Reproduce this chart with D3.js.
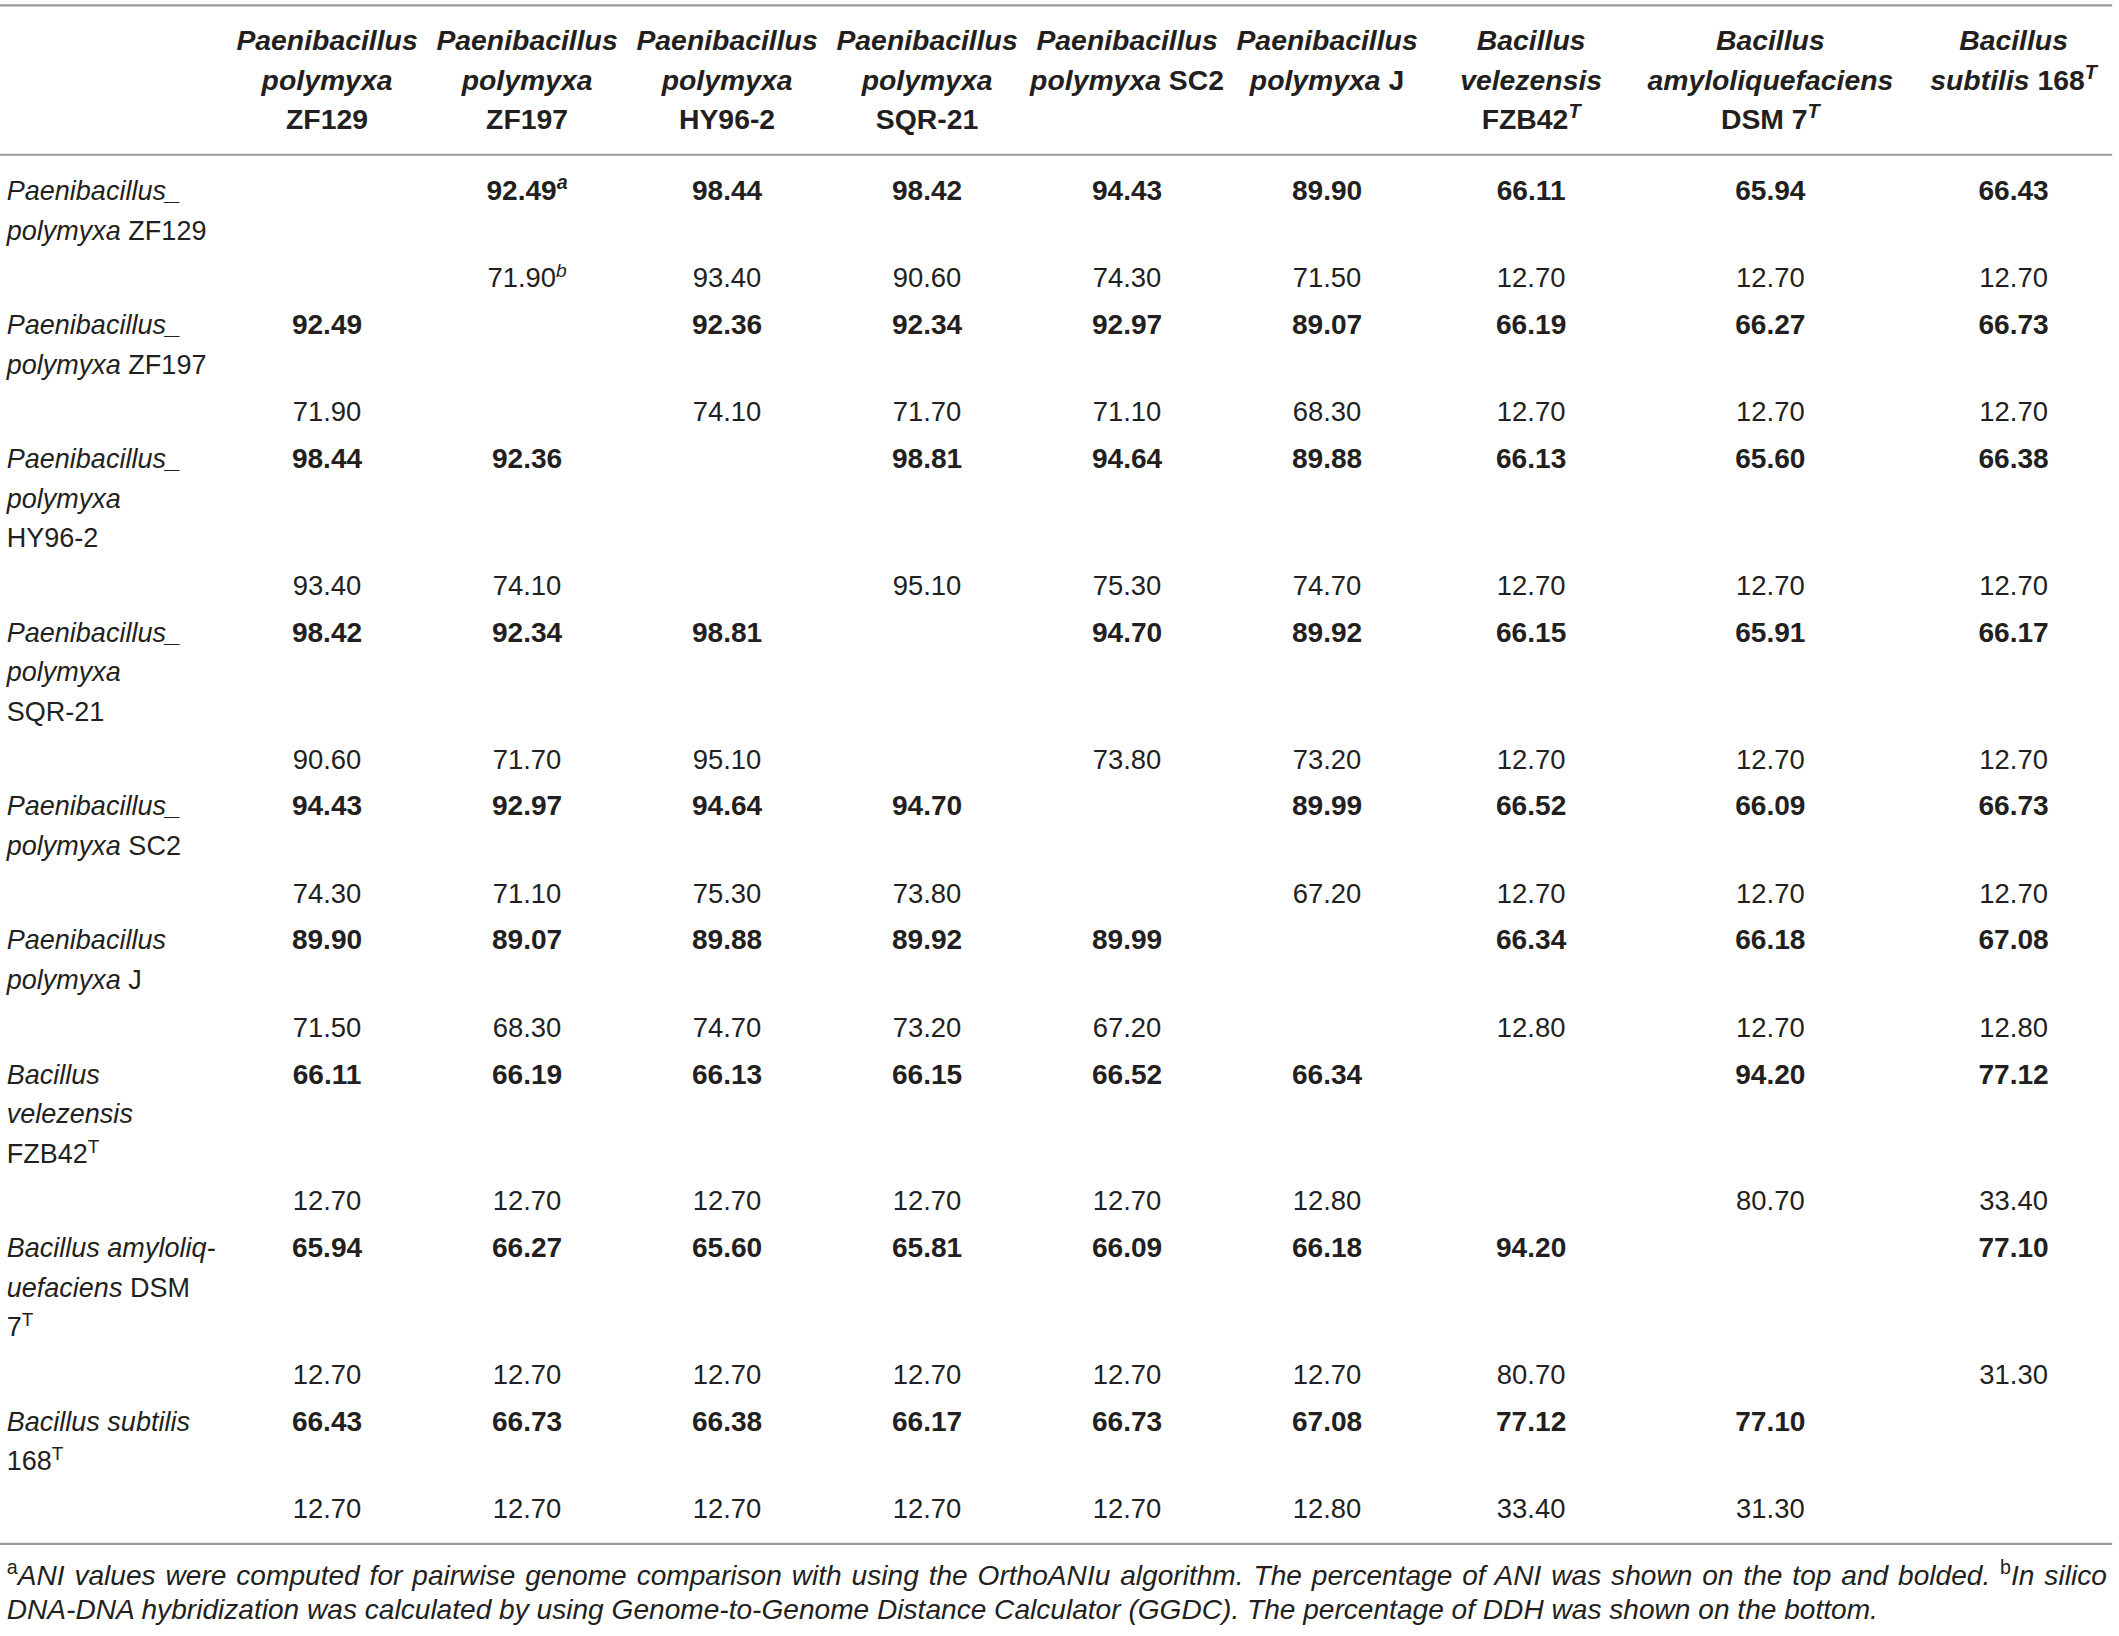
<!DOCTYPE html>
<html>
<head>
<meta charset="utf-8">
<script src="https://cdn.jsdelivr.net/npm/d3@7"></script>
<style>
  html, body { margin: 0; padding: 0; background: #fff; }
  svg { display: block; }
</style>
</head>
<body>
<div id="chart"></div>
<script>
// =============================================================================
// Data
// =============================================================================
const strains = ['ZF129', 'ZF197', 'HY96-2', 'SQR-21', 'SC2', 'J', 'FZB42', 'DSM7', '168'];

// column headers: lines of [text, style] segments (i = italic, sup = superscript)
const headerLabels = [
    [[['Paenibacillus', 'i']], [['polymyxa', 'i']], [['ZF129', '']]],
    [[['Paenibacillus', 'i']], [['polymyxa', 'i']], [['ZF197', '']]],
    [[['Paenibacillus', 'i']], [['polymyxa', 'i']], [['HY96-2', '']]],
    [[['Paenibacillus', 'i']], [['polymyxa', 'i']], [['SQR-21', '']]],
    [[['Paenibacillus', 'i']], [['polymyxa', 'i'], [' SC2', '']]],
    [[['Paenibacillus', 'i']], [['polymyxa', 'i'], [' J', '']]],
    [[['Bacillus', 'i']], [['velezensis', 'i']], [['FZB42', ''], ['T', 'i sup']]],
    [[['Bacillus', 'i']], [['amyloliquefaciens', 'i']], [['DSM 7', ''], ['T', 'i sup']]],
    [[['Bacillus', 'i']], [['subtilis', 'i'], [' 168', ''], ['T', 'i sup']]]
];

const rowLabels = [
    [[['Paenibacillus_', 'i']], [['polymyxa', 'i'], [' ZF129', '']]],
    [[['Paenibacillus_', 'i']], [['polymyxa', 'i'], [' ZF197', '']]],
    [[['Paenibacillus_', 'i']], [['polymyxa', 'i']], [['HY96-2', '']]],
    [[['Paenibacillus_', 'i']], [['polymyxa', 'i']], [['SQR-21', '']]],
    [[['Paenibacillus_', 'i']], [['polymyxa', 'i'], [' SC2', '']]],
    [[['Paenibacillus', 'i']], [['polymyxa', 'i'], [' J', '']]],
    [[['Bacillus', 'i']], [['velezensis', 'i']], [['FZB42', ''], ['T', 'sup']]],
    [[['Bacillus amyloliq-', 'i']], [['uefaciens', 'i'], [' DSM', '']], [['7', ''], ['T', 'sup']]],
    [[['Bacillus subtilis', 'i']], [['168', ''], ['T', 'sup']]]
];

// ANI (%) - top, bold
const aniValues = [
    [null, 92.49, 98.44, 98.42, 94.43, 89.90, 66.11, 65.94, 66.43],
    [92.49, null, 92.36, 92.34, 92.97, 89.07, 66.19, 66.27, 66.73],
    [98.44, 92.36, null, 98.81, 94.64, 89.88, 66.13, 65.60, 66.38],
    [98.42, 92.34, 98.81, null, 94.70, 89.92, 66.15, 65.91, 66.17],
    [94.43, 92.97, 94.64, 94.70, null, 89.99, 66.52, 66.09, 66.73],
    [89.90, 89.07, 89.88, 89.92, 89.99, null, 66.34, 66.18, 67.08],
    [66.11, 66.19, 66.13, 66.15, 66.52, 66.34, null, 94.20, 77.12],
    [65.94, 66.27, 65.60, 65.81, 66.09, 66.18, 94.20, null, 77.10],
    [66.43, 66.73, 66.38, 66.17, 66.73, 67.08, 77.12, 77.10, null]
];

// in silico DDH (%) - bottom
const ddhValues = [
    [null, 71.90, 93.40, 90.60, 74.30, 71.50, 12.70, 12.70, 12.70],
    [71.90, null, 74.10, 71.70, 71.10, 68.30, 12.70, 12.70, 12.70],
    [93.40, 74.10, null, 95.10, 75.30, 74.70, 12.70, 12.70, 12.70],
    [90.60, 71.70, 95.10, null, 73.80, 73.20, 12.70, 12.70, 12.70],
    [74.30, 71.10, 75.30, 73.80, null, 67.20, 12.70, 12.70, 12.70],
    [71.50, 68.30, 74.70, 73.20, 67.20, null, 12.80, 12.70, 12.80],
    [12.70, 12.70, 12.70, 12.70, 12.70, 12.80, null, 80.70, 33.40],
    [12.70, 12.70, 12.70, 12.70, 12.70, 12.70, 80.70, null, 31.30],
    [12.70, 12.70, 12.70, 12.70, 12.70, 12.80, 33.40, 31.30, null]
];

const footnoteLines = [
    [['a', 'sup'], ['ANI values were computed for pairwise genome comparison with using the OrthoANIu algorithm. The percentage of ANI was shown on the top and bolded. ', 'i'], ['b', 'sup'], ['In silico', 'i']],
    [['DNA-DNA hybridization was calculated by using Genome-to-Genome Distance Calculator (GGDC). The percentage of DDH was shown on the bottom.', 'i']]
];

// =============================================================================
// Layout
// =============================================================================
const VIEW_W = 1568;
const VIEW_H = 1636 * VIEW_W / 2119;
const FONT = "'Liberation Sans', Arial, sans-serif";
const TEXT_COLOR = '#231f20';
const RULE_COLOR = '#9a9a9a';
const HEADER_SIZE = 21;
const LABEL_SIZE = 20;
const ANI_SIZE = 20.8;
const DDH_SIZE = 20.3;
const FOOT_SIZE = 20.8;
const LINE_H = 29.3;
const ROW_GAP = 34.6;        // DDH line -> next row's ANI line
const BASE_OFF = 7;          // centre -> baseline
const LABEL_X = 5;
const FOOT_WIDTH = 1554;     // justified width of full footnote lines
const FIRST_COL = 168;
const COL_WIDTHS = [148, 148, 148, 148, 148, 148, 154, 200, 160];

const svg = d3.select('#chart').append('svg')
    .attr('width', 2119)
    .attr('height', 1636)
    .attr('viewBox', `0 0 ${VIEW_W} ${VIEW_H}`)
    .style('font-family', FONT)
    .style('fill', TEXT_COLOR);

// column centres from widths
const colEdges = [FIRST_COL, ...d3.cumsum(COL_WIDTHS).map(d => FIRST_COL + d)];
const xCol = d3.scaleOrdinal()
    .domain(strains)
    .range(strains.map((s, i) => (colEdges[i] + colEdges[i + 1]) / 2));

// row positions (ANI line centre, DDH line centre)
const rowPos = [];
let y = 141;
rowLabels.forEach((lab) => {
    const ddh = y + lab.length * LINE_H + 6;
    rowPos.push({ ani: y, ddh: ddh });
    y = ddh + ROW_GAP;
});

// write a line of styled segments into a text element
function writeSegments(textSel, segs) {
    segs.forEach(([t, style]) => {
        const ts = textSel.append('tspan').text(t);
        if (style.includes('i')) ts.attr('font-style', 'italic');
        if (style.includes('sup')) {
            ts.attr('baseline-shift', 'super').attr('font-size', '0.7em');
        }
    });
}

// rules
const rules = [4, 114.5, rowPos[rowPos.length - 1].ddh + 26];
svg.selectAll('line.rule')
    .data(rules)
    .enter().append('line')
    .attr('class', 'rule')
    .attr('x1', 0).attr('x2', 1563)
    .attr('y1', d => d).attr('y2', d => d)
    .attr('stroke', RULE_COLOR)
    .attr('stroke-width', 1.6);

// header
const header = svg.append('g')
    .attr('font-size', HEADER_SIZE)
    .attr('font-weight', 'bold');
headerLabels.forEach((lines, c) => {
    lines.forEach((segs, li) => {
        const t = header.append('text')
            .attr('x', xCol(strains[c]))
            .attr('y', 30 + li * LINE_H + BASE_OFF)
            .attr('text-anchor', 'middle');
        writeSegments(t, segs);
    });
});

// row labels
const labels = svg.append('g').attr('font-size', LABEL_SIZE);
rowLabels.forEach((lines, r) => {
    lines.forEach((segs, li) => {
        const t = labels.append('text')
            .attr('x', LABEL_X)
            .attr('y', rowPos[r].ani + li * LINE_H + BASE_OFF);
        writeSegments(t, segs);
    });
});

// cells
const cells = [];
aniValues.forEach((row, r) => row.forEach((v, c) => {
    if (v !== null) cells.push({ r, c, ani: v, ddh: ddhValues[r][c] });
}));

const cellG = svg.append('g').attr('text-anchor', 'middle');

cellG.selectAll('text.ani')
    .data(cells)
    .enter().append('text')
    .attr('class', 'ani')
    .attr('font-size', ANI_SIZE)
    .attr('font-weight', 'bold')
    .attr('x', d => xCol(strains[d.c]))
    .attr('y', d => rowPos[d.r].ani + BASE_OFF)
    .each(function(d) {
        const segs = [[d.ani.toFixed(2), '']];
        if (d.r === 0 && d.c === 1) segs.push(['a', 'i sup']);
        writeSegments(d3.select(this), segs);
    });

cellG.selectAll('text.ddh')
    .data(cells)
    .enter().append('text')
    .attr('class', 'ddh')
    .attr('font-size', DDH_SIZE)
    .attr('x', d => xCol(strains[d.c]))
    .attr('y', d => rowPos[d.r].ddh + BASE_OFF)
    .each(function(d) {
        const segs = [[d.ddh.toFixed(2), '']];
        if (d.r === 0 && d.c === 1) segs.push(['b', 'i sup']);
        writeSegments(d3.select(this), segs);
    });

// footnote (justified, last line left-aligned)
const foot = svg.append('g').attr('font-size', FOOT_SIZE);
const footBase = rules[2] + 30.5;
footnoteLines.forEach((segs, i) => {
    const t = foot.append('text')
        .attr('x', LABEL_X)
        .attr('y', footBase + i * 24.8);
    writeSegments(t, segs);
    if (i < footnoteLines.length - 1) {
        const natural = t.node().getComputedTextLength();
        const spaces = segs.map(s => s[0]).join('').split(' ').length - 1;
        t.attr('word-spacing', Math.max(0, (FOOT_WIDTH - natural) / spaces));
    }
});
</script>
</body>
</html>
